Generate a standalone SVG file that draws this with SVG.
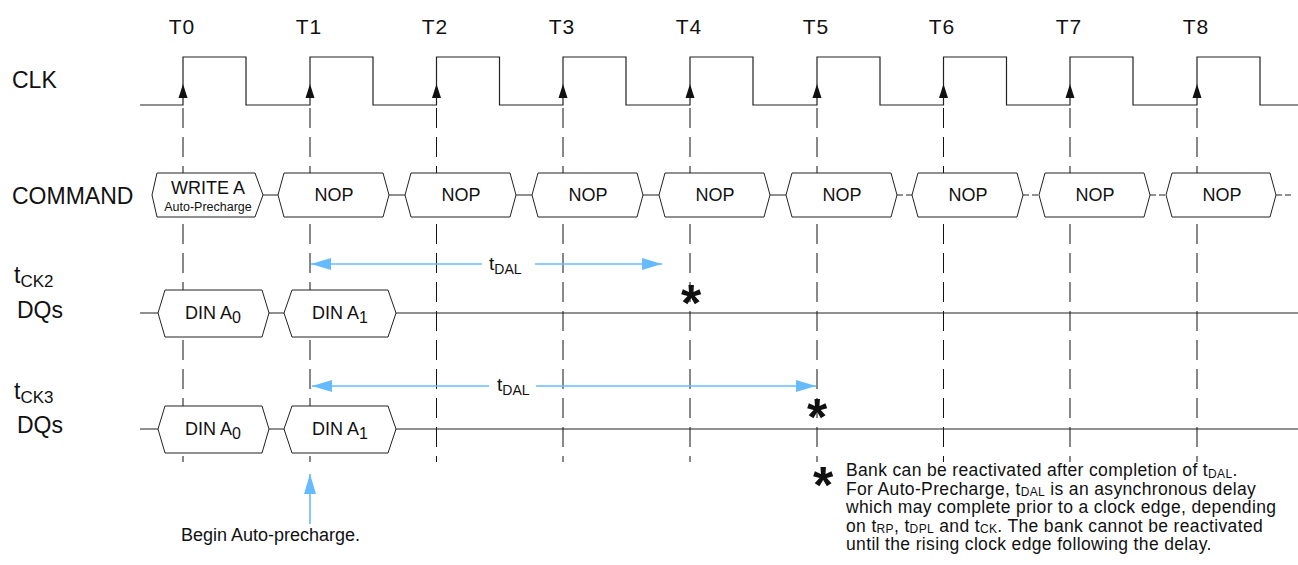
<svg xmlns="http://www.w3.org/2000/svg" width="1298" height="565" viewBox="0 0 1298 565">
<style>
text{font-family:"Liberation Sans",Arial,sans-serif;fill:#111}
.lbl{font-size:23px}
.tl{font-size:21px;text-anchor:middle;letter-spacing:1px}
.box{fill:#fff;stroke:#222;stroke-width:1}
.sig{fill:none;stroke:#222;stroke-width:1.2}
.grid{fill:none;stroke:#111;stroke-width:1;stroke-dasharray:20 9}
.blue{fill:none;stroke:#66bbff;stroke-width:1.6}
.bt{font-size:18px;text-anchor:middle}
.ast{font-size:52px;font-weight:bold;text-anchor:middle}
.note{font-size:17.5px;letter-spacing:0.35px}
.sub{font-size:12px}
</style>
<defs>
<polygon id="clkarrow" points="0,84 -4.5,98 4.5,98" fill="#111"/>
<marker id="bh" markerWidth="20" markerHeight="12" refX="20" refY="6" orient="auto" markerUnits="userSpaceOnUse">
<polygon points="0,0 20,6 0,12" fill="#66bbff"/>
</marker>
<marker id="bhs" markerWidth="20" markerHeight="12" refX="0" refY="6" orient="auto" markerUnits="userSpaceOnUse">
<polygon points="20,0 0,6 20,12" fill="#66bbff"/>
</marker>
</defs>
<rect width="1298" height="565" fill="#fff"/>

<g id="labels">
<text class="tl" x="182" y="34">T0</text>
<text class="tl" x="309" y="34">T1</text>
<text class="tl" x="435" y="34">T2</text>
<text class="tl" x="562" y="34">T3</text>
<text class="tl" x="689" y="34">T4</text>
<text class="tl" x="816" y="34">T5</text>
<text class="tl" x="942" y="34">T6</text>
<text class="tl" x="1069" y="34">T7</text>
<text class="tl" x="1196" y="34">T8</text>
<text class="lbl" x="12" y="88">CLK</text>
<text class="lbl" x="12" y="204" font-size="24">COMMAND</text>
<text class="lbl" x="14" y="283">t<tspan font-size="17" dy="4">CK2</tspan></text>
<text class="lbl" x="17" y="318">DQs</text>
<text class="lbl" x="14" y="399">t<tspan font-size="17" dy="4">CK3</tspan></text>
<text class="lbl" x="17" y="433">DQs</text>
</g>

<g id="grid">
<line class="grid" x1="183" y1="108" x2="183" y2="462"/>
<line class="grid" x1="310" y1="108" x2="310" y2="462"/>
<line class="grid" x1="436.5" y1="108" x2="436.5" y2="462"/>
<line class="grid" x1="563" y1="108" x2="563" y2="462"/>
<line class="grid" x1="690" y1="108" x2="690" y2="462"/>
<line class="grid" x1="817" y1="108" x2="817" y2="462"/>
<line class="grid" x1="943.5" y1="108" x2="943.5" y2="462"/>
<line class="grid" x1="1070" y1="108" x2="1070" y2="462"/>
<line class="grid" x1="1197" y1="108" x2="1197" y2="462"/>
</g>

<g id="clk">
<path class="sig" d="M140,105 H183 V57 H246 V105 H310 V57 H373 V105 H436.5 V57 H499.5 V105 H563 V57 H626 V105 H690 V57 H753 V105 H817 V57 H880 V105 H943.5 V57 H1006.5 V105 H1070 V57 H1133 V105 H1197 V57 H1260 V105 H1298"/>
<use href="#clkarrow" x="183"/>
<use href="#clkarrow" x="310"/>
<use href="#clkarrow" x="436.5"/>
<use href="#clkarrow" x="563"/>
<use href="#clkarrow" x="690"/>
<use href="#clkarrow" x="817"/>
<use href="#clkarrow" x="943.5"/>
<use href="#clkarrow" x="1070"/>
<use href="#clkarrow" x="1197"/>
</g>

<g id="connectors">
<path class="sig" d="M263,195 H278 M389,195 H405 M516,195 H532 M643,195 H659 M770,195 H786"/>
<path class="sig" d="M897,195 H912 M1023,195 H1039 M1150,195 H1166 M1276,195 H1292" stroke-dasharray="6 3"/>
<path class="sig" d="M140,313 H158 M269,313 H284 M396,313 H1298"/>
<path class="sig" d="M140,429 H158 M269,429 H284 M396,429 H1298"/>
<path class="blue" d="M311,264 H482" marker-start="url(#bhs)"/>
<path class="blue" d="M535,264 H662" marker-end="url(#bh)"/>
<path class="blue" d="M312,386 H489" marker-start="url(#bhs)"/>
<path class="blue" d="M536,386 H816" marker-end="url(#bh)"/>
<path class="blue" d="M310,524 V474" marker-end="url(#bh)"/>
</g>

<g id="cmd-T0">
<polygon class="box" points="152,195 157,173 255,173 263,195 255,217 157,217"/>
<text class="bt" x="208" y="194">WRITE A</text>
<text x="208" y="211" font-size="12.5" text-anchor="middle">Auto-Precharge</text>
</g>
<g id="cmd-T1"><polygon class="box" points="278,195 284,173 383,173 389,195 383,217 284,217"/><text class="bt" x="334" y="201">NOP</text></g>
<g id="cmd-T2"><polygon class="box" points="405,195 411,173 510,173 516,195 510,217 411,217"/><text class="bt" x="461" y="201">NOP</text></g>
<g id="cmd-T3"><polygon class="box" points="532,195 538,173 637,173 643,195 637,217 538,217"/><text class="bt" x="588" y="201">NOP</text></g>
<g id="cmd-T4"><polygon class="box" points="659,195 665,173 764,173 770,195 764,217 665,217"/><text class="bt" x="715" y="201">NOP</text></g>
<g id="cmd-T5"><polygon class="box" points="786,195 792,173 891,173 897,195 891,217 792,217"/><text class="bt" x="842" y="201">NOP</text></g>
<g id="cmd-T6"><polygon class="box" points="912,195 918,173 1017,173 1023,195 1017,217 918,217"/><text class="bt" x="968" y="201">NOP</text></g>
<g id="cmd-T7"><polygon class="box" points="1039,195 1045,173 1144,173 1150,195 1144,217 1045,217"/><text class="bt" x="1095" y="201">NOP</text></g>
<g id="cmd-T8"><polygon class="box" points="1166,195 1172,173 1270,173 1276,195 1270,217 1172,217"/><text class="bt" x="1222" y="201">NOP</text></g>

<g id="dq2-A0"><polygon class="box" points="158,313 165,290 262,290 269,313 262,337 165,337"/><text class="bt" x="213" y="319">DIN A<tspan font-size="16" dy="4">0</tspan></text></g>
<g id="dq2-A1"><polygon class="box" points="284,313 292,290 388,290 396,313 388,337 292,337"/><text class="bt" x="340" y="319">DIN A<tspan font-size="16" dy="4">1</tspan></text></g>
<g id="dq3-A0"><polygon class="box" points="158,429 165,406 262,406 269,429 262,453 165,453"/><text class="bt" x="213" y="435">DIN A<tspan font-size="16" dy="4">0</tspan></text></g>
<g id="dq3-A1"><polygon class="box" points="284,429 292,406 388,406 396,429 388,453 292,453"/><text class="bt" x="340" y="435">DIN A<tspan font-size="16" dy="4">1</tspan></text></g>

<g id="tdal2"><text x="489" y="270" font-size="19">t<tspan font-size="14" dy="4">DAL</tspan></text></g>
<g id="tdal3"><text x="497" y="391" font-size="19">t<tspan font-size="14" dy="4">DAL</tspan></text></g>

<g id="stars">
<text class="ast" x="691" y="321">*</text>
<text class="ast" x="817" y="435">*</text>
</g>

<g id="note">
<text class="ast" x="823" y="503">*</text>
<text class="note" x="846" y="476">Bank can be reactivated after completion of t<tspan class="sub" dy="1.5">DAL</tspan><tspan dy="-1.5">.</tspan></text>
<text class="note" x="846" y="494.5">For Auto-Precharge, t<tspan class="sub" dy="1.5">DAL</tspan><tspan dy="-1.5"> is an asynchronous delay</tspan></text>
<text class="note" x="846" y="513">which may complete prior to a clock edge, depending</text>
<text class="note" x="846" y="531.5">on t<tspan class="sub" dy="1.5">RP</tspan><tspan dy="-1.5">, t</tspan><tspan class="sub" dy="1.5">DPL</tspan><tspan dy="-1.5"> and t</tspan><tspan class="sub" dy="1.5">CK</tspan><tspan dy="-1.5">. The bank cannot be reactivated</tspan></text>
<text class="note" x="846" y="550">until the rising clock edge following the delay.</text>
</g>

<g id="begin"><text x="181" y="541" font-size="18">Begin Auto-precharge.</text></g>
</svg>
